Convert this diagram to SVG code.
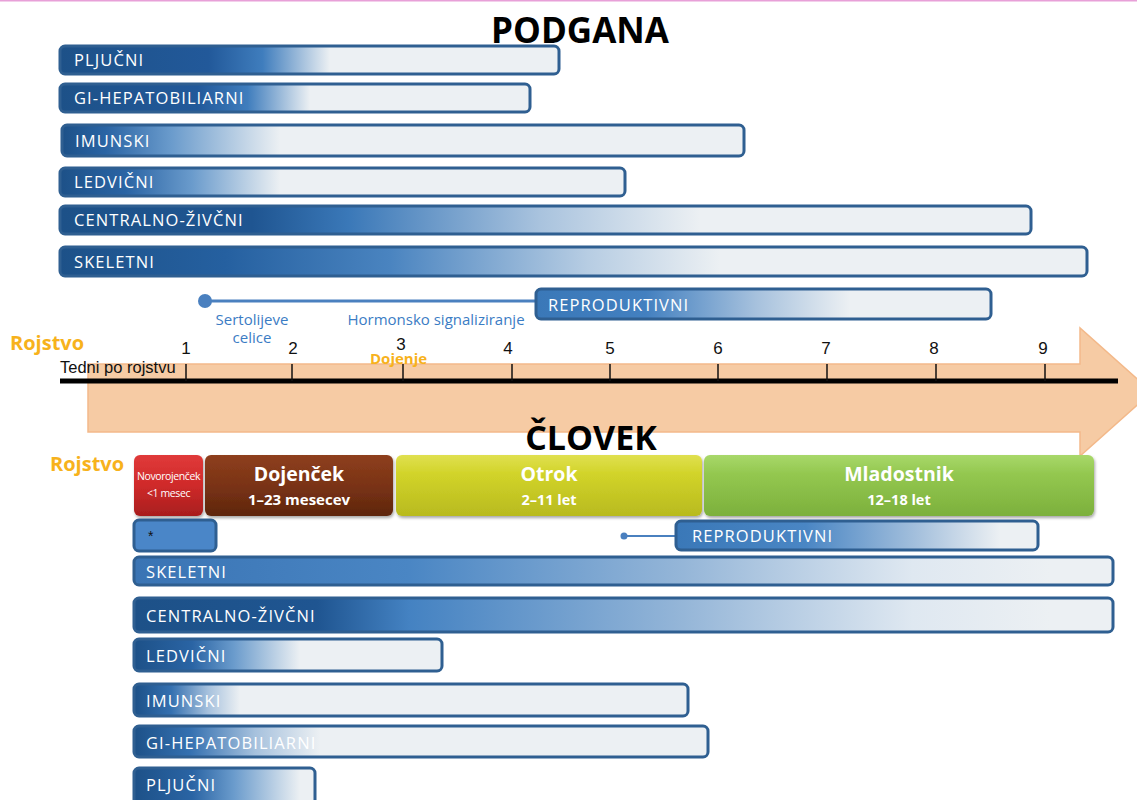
<svg xmlns="http://www.w3.org/2000/svg" width="1137" height="800" viewBox="0 0 1137 800">
<defs>
<style>
.bar{stroke:#2f5f91;stroke-width:3}
.bt{font-family:"Open Sans","Liberation Sans",sans-serif;font-size:16.5px;fill:#fff;letter-spacing:1.1px}
.num{font-family:"Liberation Sans",Arial,sans-serif;font-size:17px;fill:#111;text-anchor:middle}
.blue{font-family:"Open Sans","Liberation Sans",sans-serif;font-size:15px;fill:#3b7cc4}
.org{font-family:"Open Sans","Liberation Sans",sans-serif;font-weight:bold;fill:#f7b21c}
.title{font-family:"Open Sans","Liberation Sans",sans-serif;font-weight:bold;fill:#000;text-anchor:middle}
.st{font-family:"Open Sans","Liberation Sans",sans-serif;font-weight:bold;fill:#fff;text-anchor:middle}
.tick{stroke:#111;stroke-width:1.5}
</style>
<linearGradient id="gr1" gradientUnits="userSpaceOnUse" x1="60" x2="330" y1="0" y2="0"><stop offset="0" stop-color="#1d5188"/><stop offset="0.55" stop-color="#22599a"/><stop offset="0.75" stop-color="#3f7dbd"/><stop offset="1" stop-color="#ecf0f3"/></linearGradient>
<linearGradient id="gr2" gradientUnits="userSpaceOnUse" x1="60" x2="310" y1="0" y2="0"><stop offset="0" stop-color="#1d5188"/><stop offset="0.55" stop-color="#22599a"/><stop offset="0.75" stop-color="#3f7dbd"/><stop offset="1" stop-color="#ecf0f3"/></linearGradient>
<linearGradient id="gr3" gradientUnits="userSpaceOnUse" x1="62" x2="280" y1="0" y2="0"><stop offset="0" stop-color="#1d5188"/><stop offset="0.2" stop-color="#2a64a4"/><stop offset="0.5" stop-color="#6a9bcc"/><stop offset="1" stop-color="#ecf0f3"/></linearGradient>
<linearGradient id="gr4" gradientUnits="userSpaceOnUse" x1="60" x2="280" y1="0" y2="0"><stop offset="0" stop-color="#1d5188"/><stop offset="0.3" stop-color="#2a64a4"/><stop offset="0.6" stop-color="#6a9bcc"/><stop offset="1" stop-color="#ecf0f3"/></linearGradient>
<linearGradient id="gr5" gradientUnits="userSpaceOnUse" x1="60" x2="700" y1="0" y2="0"><stop offset="0" stop-color="#1d5188"/><stop offset="0.3" stop-color="#1f5591"/><stop offset="0.45" stop-color="#3a78b8"/><stop offset="0.75" stop-color="#a9c3de"/><stop offset="1" stop-color="#ecf0f3"/></linearGradient>
<linearGradient id="gr6" gradientUnits="userSpaceOnUse" x1="60" x2="720" y1="0" y2="0"><stop offset="0" stop-color="#1d5188"/><stop offset="0.25" stop-color="#2560a0"/><stop offset="0.5" stop-color="#4a84c0"/><stop offset="0.8" stop-color="#b7cde3"/><stop offset="1" stop-color="#ecf0f3"/></linearGradient>
<linearGradient id="gr7" gradientUnits="userSpaceOnUse" x1="536" x2="850" y1="0" y2="0"><stop offset="0" stop-color="#3a78b8"/><stop offset="0.35" stop-color="#4380c0"/><stop offset="0.7" stop-color="#a6c1dd"/><stop offset="1" stop-color="#ecf0f3"/></linearGradient>
<linearGradient id="gh1" gradientUnits="userSpaceOnUse" x1="676" x2="1000" y1="0" y2="0"><stop offset="0" stop-color="#3a78b8"/><stop offset="0.4" stop-color="#4a86c4"/><stop offset="0.75" stop-color="#a6c1dd"/><stop offset="1" stop-color="#ecf0f3"/></linearGradient>
<linearGradient id="gh2" gradientUnits="userSpaceOnUse" x1="134" x2="1050" y1="0" y2="0"><stop offset="0" stop-color="#3a74b4"/><stop offset="0.3" stop-color="#4a86c4"/><stop offset="0.6" stop-color="#95b6d8"/><stop offset="0.85" stop-color="#dfe8f1"/><stop offset="1" stop-color="#ecf0f3"/></linearGradient>
<linearGradient id="gh3" gradientUnits="userSpaceOnUse" x1="134" x2="1050" y1="0" y2="0"><stop offset="0" stop-color="#1d5188"/><stop offset="0.2" stop-color="#1f5591"/><stop offset="0.3" stop-color="#4482c2"/><stop offset="0.6" stop-color="#95b6d8"/><stop offset="0.85" stop-color="#dfe8f1"/><stop offset="1" stop-color="#ecf0f3"/></linearGradient>
<linearGradient id="gh4" gradientUnits="userSpaceOnUse" x1="134" x2="300" y1="0" y2="0"><stop offset="0" stop-color="#1d5188"/><stop offset="0.35" stop-color="#2a64a4"/><stop offset="0.6" stop-color="#6a9bcc"/><stop offset="1" stop-color="#ecf0f3"/></linearGradient>
<linearGradient id="gh5" gradientUnits="userSpaceOnUse" x1="134" x2="240" y1="0" y2="0"><stop offset="0" stop-color="#1d5188"/><stop offset="0.35" stop-color="#3470b0"/><stop offset="0.7" stop-color="#a6c1dd"/><stop offset="1" stop-color="#ecf0f3"/></linearGradient>
<linearGradient id="gh6" gradientUnits="userSpaceOnUse" x1="134" x2="320" y1="0" y2="0"><stop offset="0" stop-color="#1d5188"/><stop offset="0.3" stop-color="#3470b0"/><stop offset="0.65" stop-color="#a6c1dd"/><stop offset="1" stop-color="#ecf0f3"/></linearGradient>
<linearGradient id="gh7" gradientUnits="userSpaceOnUse" x1="134" x2="300" y1="0" y2="0"><stop offset="0" stop-color="#1d5188"/><stop offset="0.35" stop-color="#2a64a4"/><stop offset="0.6" stop-color="#6a9bcc"/><stop offset="1" stop-color="#ecf0f3"/></linearGradient>
<linearGradient id="sRed" x1="0" y1="0" x2="0" y2="1"><stop offset="0" stop-color="#e03a3a"/><stop offset="0.5" stop-color="#cf2a2a"/><stop offset="1" stop-color="#a81e1e"/></linearGradient>
<linearGradient id="sBrown" x1="0" y1="0" x2="0" y2="1"><stop offset="0" stop-color="#8e3f1e"/><stop offset="0.5" stop-color="#7a3314"/><stop offset="1" stop-color="#5e260e"/></linearGradient>
<linearGradient id="sYel" x1="0" y1="0" x2="0" y2="1"><stop offset="0" stop-color="#e0e050"/><stop offset="0.3" stop-color="#d2d42a"/><stop offset="1" stop-color="#b8ba1e"/></linearGradient>
<linearGradient id="sGrn" x1="0" y1="0" x2="0" y2="1"><stop offset="0" stop-color="#a8d86a"/><stop offset="0.3" stop-color="#94c850"/><stop offset="1" stop-color="#7cb03c"/></linearGradient>
<filter id="sh" x="-5%" y="-20%" width="110%" height="150%"><feDropShadow dx="1" dy="2" stdDeviation="1.5" flood-color="#000" flood-opacity="0.35"/></filter>
</defs>

<line x1="0" y1="0.5" x2="1137" y2="0.5" stroke="#e8a0d8" stroke-width="2"/>

<text class="title" x="580" y="43" font-size="35">PODGANA</text>

<g id="rat-pljucni"><rect class="bar" x="60" y="46" width="499" height="28" rx="5" fill="url(#gr1)"/><text class="bt" x="74" y="66">PLJUČNI</text></g>
<g id="rat-gi"><rect class="bar" x="60" y="84" width="470" height="28" rx="5" fill="url(#gr2)"/><text class="bt" x="74" y="104">GI-HEPATOBILIARNI</text></g>
<g id="rat-imunski"><rect class="bar" x="62" y="125" width="682" height="31" rx="5" fill="url(#gr3)"/><text class="bt" x="75" y="147">IMUNSKI</text></g>
<g id="rat-ledvicni"><rect class="bar" x="60" y="168" width="565" height="28" rx="5" fill="url(#gr4)"/><text class="bt" x="74" y="188">LEDVIČNI</text></g>
<g id="rat-cns"><rect class="bar" x="60" y="206" width="971" height="28" rx="5" fill="url(#gr5)"/><text class="bt" x="74" y="226">CENTRALNO-ŽIVČNI</text></g>
<g id="rat-skeletni"><rect class="bar" x="60" y="247" width="1027" height="29" rx="5" fill="url(#gr6)"/><text class="bt" x="74" y="268">SKELETNI</text></g>

<g id="connectors">
<line x1="205" y1="301" x2="538" y2="301" stroke="#4a80bf" stroke-width="3"/>
<circle cx="205" cy="301" r="7" fill="#4a80bf"/>
<line x1="624" y1="536" x2="678" y2="536" stroke="#4a80bf" stroke-width="2"/>
<circle cx="624" cy="536" r="3.5" fill="#4a80bf"/>
</g>

<g id="rat-reproduktivni"><rect class="bar" x="536" y="289" width="455" height="30" rx="5" fill="url(#gr7)"/><text class="bt" x="548" y="311">REPRODUKTIVNI</text></g>

<text class="blue" x="252" y="325" text-anchor="middle">Sertolijeve</text>
<text class="blue" x="252" y="343" text-anchor="middle">celice</text>
<text class="blue" x="436" y="325" text-anchor="middle">Hormonsko signaliziranje</text>

<g id="axis">
<path d="M88 364 H1080 V328 L1152 392 L1080 456 V432 H88 Z" fill="#f6cba4" stroke="#f3b98a" stroke-width="1.5"/>
<line x1="60" y1="381" x2="1118" y2="381" stroke="#000" stroke-width="5"/>
<line class="tick" x1="186" y1="364" x2="186" y2="381"/>
<line class="tick" x1="292" y1="364" x2="292" y2="381"/>
<line class="tick" x1="403" y1="364" x2="403" y2="381"/>
<line class="tick" x1="512" y1="364" x2="512" y2="381"/>
<line class="tick" x1="610" y1="364" x2="610" y2="381"/>
<line class="tick" x1="718" y1="364" x2="718" y2="381"/>
<line class="tick" x1="827" y1="364" x2="827" y2="381"/>
<line class="tick" x1="936" y1="364" x2="936" y2="381"/>
<line class="tick" x1="1045" y1="364" x2="1045" y2="381"/>
<text class="num" x="186" y="354">1</text>
<text class="num" x="293" y="354">2</text>
<text class="num" x="401" y="350">3</text>
<text class="num" x="508" y="354">4</text>
<text class="num" x="610" y="354">5</text>
<text class="num" x="718" y="354">6</text>
<text class="num" x="826" y="354">7</text>
<text class="num" x="934" y="354">8</text>
<text class="num" x="1043" y="354">9</text>
<text x="60" y="373" font-family="Liberation Sans, Arial, sans-serif" font-size="16.5" fill="#111">Tedni po rojstvu</text>
<text class="org" x="370" y="364" font-size="15">Dojenje</text>
<text class="org" x="10" y="350" font-size="20">Rojstvo</text>
</g>

<text class="title" x="591" y="450" font-size="34">ČLOVEK</text>
<text class="org" x="50" y="471" font-size="20">Rojstvo</text>

<g id="stage-novorojencek"><rect x="134" y="455" width="69" height="61" rx="6" fill="url(#sRed)" filter="url(#sh)"/><text x="168.5" y="480" font-family="Open Sans, Liberation Sans, sans-serif" font-size="10.5" fill="#fff" text-anchor="middle" letter-spacing="-0.4">Novorojenček</text><text x="168.5" y="497" font-family="Open Sans, Liberation Sans, sans-serif" font-size="10.5" fill="#fff" text-anchor="middle" letter-spacing="-0.4">&lt;1 mesec</text></g>
<g id="stage-dojencek"><rect x="205" y="455" width="188" height="61" rx="6" fill="url(#sBrown)" filter="url(#sh)"/><text class="st" x="299" y="481" font-size="19.5">Dojenček</text><text class="st" x="299" y="505" font-size="15">1–23 mesecev</text></g>
<g id="stage-otrok"><rect x="396" y="455" width="306" height="61" rx="6" fill="url(#sYel)" filter="url(#sh)"/><text class="st" x="549" y="481" font-size="19.5">Otrok</text><text class="st" x="549" y="505" font-size="14.5">2–11 let</text></g>
<g id="stage-mladostnik"><rect x="704" y="455" width="390" height="61" rx="6" fill="url(#sGrn)" filter="url(#sh)"/><text class="st" x="899" y="481" font-size="19.5">Mladostnik</text><text class="st" x="899" y="505" font-size="14.5">12–18 let</text></g>

<g id="hum-star"><rect class="bar" x="134" y="520" width="82" height="31" rx="5" fill="#4a86c8"/><text x="148" y="541" font-family="Liberation Sans, sans-serif" font-size="14" fill="#111">*</text></g>
<g id="hum-reproduktivni"><rect class="bar" x="676" y="521" width="362" height="29" rx="5" fill="url(#gh1)"/><text class="bt" x="692" y="542">REPRODUKTIVNI</text></g>
<g id="hum-skeletni"><rect class="bar" x="134" y="557" width="979" height="28" rx="5" fill="url(#gh2)"/><text class="bt" x="146" y="578">SKELETNI</text></g>
<g id="hum-cns"><rect class="bar" x="134" y="598" width="979" height="34" rx="5" fill="url(#gh3)"/><text class="bt" x="146" y="622">CENTRALNO-ŽIVČNI</text></g>
<g id="hum-ledvicni"><rect class="bar" x="134" y="639" width="308" height="32" rx="5" fill="url(#gh4)"/><text class="bt" x="146" y="662">LEDVIČNI</text></g>
<g id="hum-imunski"><rect class="bar" x="134" y="684" width="554" height="32" rx="5" fill="url(#gh5)"/><text class="bt" x="146" y="707">IMUNSKI</text></g>
<g id="hum-gi"><rect class="bar" x="134" y="726" width="574" height="31" rx="5" fill="url(#gh6)"/><text class="bt" x="146" y="749">GI-HEPATOBILIARNI</text></g>
<g id="hum-pljucni"><rect class="bar" x="134" y="768" width="181" height="40" rx="5" fill="url(#gh7)"/><text class="bt" x="146" y="791">PLJUČNI</text></g>
</svg>
